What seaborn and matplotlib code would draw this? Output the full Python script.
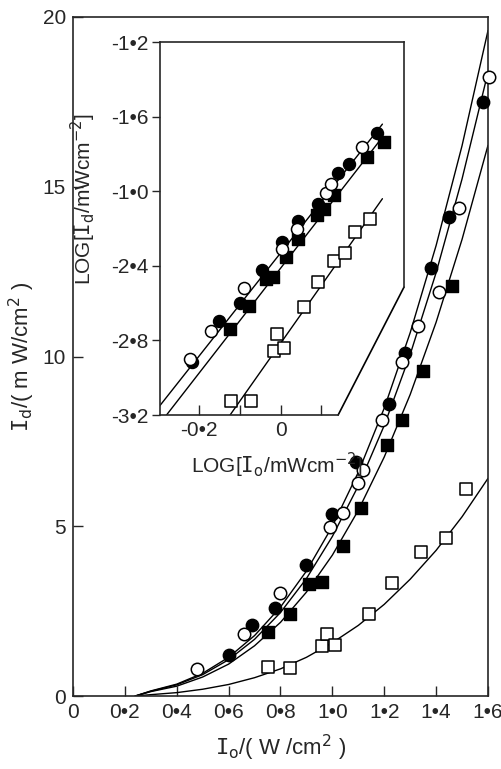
import numpy as np
import pandas as pd
import seaborn as sns
import matplotlib.pyplot as plt

# main panel: Io (W/cm2) vs Id (mW/cm2)
fc_x = [0.60, 0.69, 0.78, 0.90, 1.00, 1.09, 1.22, 1.28, 1.38, 1.45, 1.58]
fc_y = [1.2, 2.1, 2.6, 3.85, 5.35, 6.9, 8.6, 10.1, 12.6, 14.1, 17.5]
oc_x = [0.48, 0.66, 0.80, 0.99, 1.04, 1.10, 1.12, 1.19, 1.27, 1.33, 1.41, 1.49, 1.605]
oc_y = [0.79, 1.83, 3.04, 4.97, 5.38, 6.28, 6.66, 8.13, 9.83, 10.9, 11.9, 14.36, 18.24]
fs_x = [0.75, 0.835, 0.91, 0.96, 1.04, 1.11, 1.21, 1.27, 1.35, 1.46]
fs_y = [1.89, 2.42, 3.30, 3.35, 4.42, 5.55, 7.39, 8.13, 9.58, 12.09]
os_x = [0.75, 0.835, 0.96, 0.98, 1.01, 1.14, 1.23, 1.34, 1.44, 1.515]
os_y = [0.86, 0.84, 1.47, 1.82, 1.50, 2.43, 3.32, 4.23, 4.66, 6.09]

# fitted curves
curve_x = [0.24, 0.3, 0.4, 0.5, 0.6, 0.7, 0.8, 0.9, 1.0, 1.1, 1.2, 1.3, 1.4, 1.5, 1.6]
curve_a = [0, 0.15, 0.35, 0.67, 1.14, 1.78, 2.62, 3.68, 5.0, 6.59, 8.48, 10.70, 13.27, 16.21, 19.6]
curve_b = [0, 0.14, 0.33, 0.63, 1.07, 1.67, 2.46, 3.46, 4.7, 6.19, 7.97, 10.06, 12.47, 15.23, 18.37]
curve_c = [0, 0.13, 0.29, 0.56, 0.94, 1.48, 2.17, 3.06, 4.15, 5.47, 7.04, 8.88, 11.01, 13.45, 16.22]
curve_d = [0, 0.04, 0.10, 0.20, 0.34, 0.54, 0.80, 1.14, 1.57, 2.08, 2.70, 3.44, 4.29, 5.28, 6.41]

main_xticks = [0, 0.2, 0.4, 0.6, 0.8, 1.0, 1.2, 1.4, 1.6]
main_xlabels = ["0", "0•2", "0•4", "0•6", "0•8", "1•0", "1•2", "1•4", "1•6"]
main_yticks = [0, 5, 10, 15, 20]
main_ylabels = ["0", "5", "10", "15", "20"]

# inset: log-log
ifc_x = [-0.218, -0.150, -0.100, -0.045, 0.003, 0.044, 0.091, 0.142, 0.167, 0.236]
ifc_y = [-2.914, -2.696, -2.598, -2.423, -2.271, -2.160, -2.070, -1.904, -1.854, -1.690]
ioc_x = [-0.222, -0.171, -0.091, 0.003, 0.040, 0.111, 0.124, 0.201]
ioc_y = [-2.901, -2.750, -2.517, -2.312, -2.204, -2.011, -1.961, -1.765]
ifs_x = [-0.123, -0.077, -0.036, -0.019, 0.014, 0.044, 0.089, 0.107, 0.132, 0.212, 0.253]
ifs_y = [-2.741, -2.616, -2.472, -2.458, -2.351, -2.256, -2.128, -2.097, -2.020, -1.818, -1.735]
ios_x = [-0.122, -0.073, -0.016, -0.009, 0.009, 0.058, 0.093, 0.131, 0.158, 0.183, 0.220]
ios_y = [-3.125, -3.125, -2.857, -2.767, -2.839, -2.619, -2.489, -2.373, -2.330, -2.217, -2.149]

line_circ_x = [-0.30, 0.25]
line_circ_y = [-3.16, -1.64]
line_fsq_x = [-0.28, 0.25]
line_fsq_y = [-3.20, -1.71]
line_osq_x = [-0.124, 0.25]
line_osq_y = [-3.20, -2.04]

in_xticks = [-0.2, -0.1, 0, 0.1]
in_xlabels = ["-0•2", "", "0", ""]
in_yticks = [-1.2, -1.6, -2.0, -2.4, -2.8, -3.2]
in_ylabels = ["-1•2", "-1•6", "-1•0", "-2•4", "-2•8", "-3•2"]

sns.set_style("ticks")
plt.rcParams['font.family'] = ['Liberation Sans', 'DejaVu Sans']
plt.rcParams['axes.linewidth'] = 1.2

fig = plt.figure(figsize=(5.02, 7.69), dpi=100)
ax = fig.add_axes([0.1454, 0.0949, 0.8267, 0.8830])

for cy in [curve_a, curve_b, curve_c, curve_d]:
    sns.lineplot(x=curve_x, y=cy, ax=ax, color='black', lw=1.0,
                 estimator=None, sort=False, zorder=2)

msz = 80
sns.scatterplot(x=fc_x, y=fc_y, ax=ax, marker='o', s=msz, color='black',
                edgecolor='black', linewidth=1, zorder=3, clip_on=False)
sns.scatterplot(x=oc_x, y=oc_y, ax=ax, marker='o', s=msz, color='white',
                edgecolor='black', linewidth=1.1, zorder=3, clip_on=False)
sns.scatterplot(x=fs_x, y=fs_y, ax=ax, marker='s', s=msz * 0.85, color='black',
                edgecolor='black', linewidth=1, zorder=3)
sns.scatterplot(x=os_x, y=os_y, ax=ax, marker='s', s=msz * 0.85, color='white',
                edgecolor='black', linewidth=1.1, zorder=3)

ax.set_xlim(0, 1.6)
ax.set_ylim(0, 20)
ax.set_xticks(main_xticks)
ax.set_xticklabels(main_xlabels)
ax.set_yticks(main_yticks)
ax.set_yticklabels(main_ylabels)
ax.tick_params(direction='in', length=7, width=1, labelsize=15, pad=5)
ax.set_xlabel(r"$\mathtt{I}_{\mathrm{o}}$/( W /cm$^{2}$ )", fontsize=16, labelpad=8)
ax.set_ylabel(r"$\mathtt{I}_{\mathrm{d}}$/( m W/cm$^{2}$ )", fontsize=16, labelpad=4)

# inset
ax_in = fig.add_axes([0.3187, 0.4603, 0.4861, 0.4850], facecolor='none')
for lx, ly in [(line_circ_x, line_circ_y), (line_fsq_x, line_fsq_y), (line_osq_x, line_osq_y)]:
    sns.lineplot(x=lx, y=ly, ax=ax_in, color='black', lw=1.0,
                 estimator=None, sort=False, zorder=2)

ms2 = 75
sns.scatterplot(x=ifs_x, y=ifs_y, ax=ax_in, marker='s', s=ms2 * 0.85, color='black',
                edgecolor='black', linewidth=1, zorder=3)
sns.scatterplot(x=ifc_x, y=ifc_y, ax=ax_in, marker='o', s=ms2, color='black',
                edgecolor='black', linewidth=1, zorder=3)
sns.scatterplot(x=ioc_x, y=ioc_y, ax=ax_in, marker='o', s=ms2, color='white',
                edgecolor='black', linewidth=1.1, zorder=4)
sns.scatterplot(x=ios_x, y=ios_y, ax=ax_in, marker='s', s=ms2 * 0.85, color='white',
                edgecolor='black', linewidth=1.1, zorder=3)

ax_in.set_xlim(-0.296, 0.303)
ax_in.set_ylim(-3.2, -1.2)
ax_in.set_xticks(in_xticks)
ax_in.set_xticklabels(in_xlabels)
ax_in.set_yticks(in_yticks)
ax_in.set_yticklabels(in_ylabels)
ax_in.tick_params(axis='y', direction='out', length=6, width=1, labelsize=15, pad=2)
ax_in.tick_params(axis='x', direction='in', length=7, width=1, labelsize=15, pad=4)

# cut corner frame
ax_in.spines['bottom'].set_bounds(-0.296, 0.141)
ax_in.spines['right'].set_bounds(-2.514, -1.2)
ax_in.plot([1.0, 0.73], [0.343, 0.0], transform=ax_in.transAxes,
           color='black', lw=1.2, clip_on=False)

ax_in.set_xlabel(r"LOG[$\mathtt{I}_{\mathrm{o}}$/mWcm$^{-2}$]", fontsize=15)
ax_in.xaxis.set_label_coords(0.48, -0.095)
ax_in.set_ylabel(r"LOG[$\mathtt{I}_{\mathrm{d}}$/mWcm$^{-2}$]", fontsize=15)
ax_in.yaxis.set_label_coords(-0.255, 0.58)

fig.savefig("out.png", dpi=100)
